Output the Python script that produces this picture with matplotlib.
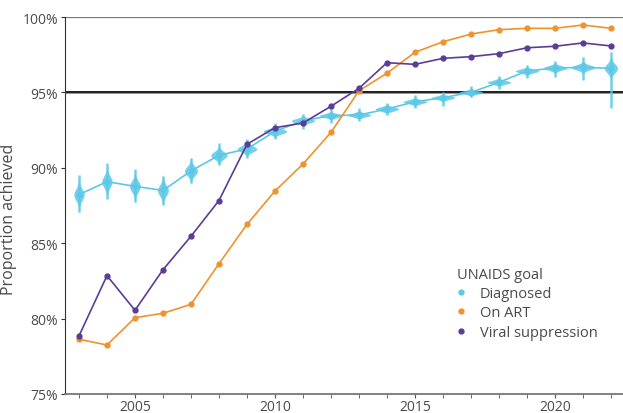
import matplotlib
matplotlib.use('Agg')
import matplotlib.pyplot as plt
import numpy as np

plt.rcParams['font.family'] = ['Open Sans', 'DejaVu Sans']

years = np.arange(2003, 2023)
diagnosed = [88.22, 89.08, 88.77, 88.5, 89.79, 90.83, 91.25, 92.42, 93.12, 93.46,
             93.5, 93.9, 94.38, 94.65, 95.0, 95.67, 96.42, 96.62, 96.66, 96.6]
on_art = [78.63, 78.25, 80.06, 80.35, 80.95, 83.64, 86.25, 88.46, 90.25, 92.35,
          95.11, 96.27, 97.66, 98.36, 98.87, 99.16, 99.25, 99.25, 99.47, 99.25]
viral = [78.85, 82.85, 80.55, 83.24, 85.46, 87.83, 91.56, 92.66, 92.97, 94.08,
         95.27, 96.97, 96.86, 97.26, 97.37, 97.57, 97.96, 98.06, 98.28, 98.08]
# uncertainty of diagnosed estimate (violins): whisker ends and body spread
diag_lo = [87.05, 87.9, 87.7, 87.53, 88.99, 90.19, 90.65, 91.9, 92.6, 93.0,
           93.1, 93.5, 93.95, 94.12, 94.67, 95.23, 95.93, 96.0, 95.84, 93.95]
diag_hi = [89.52, 90.3, 89.9, 89.46, 90.67, 91.64, 91.9, 92.95, 93.6, 93.9,
           93.95, 94.3, 94.8, 95.05, 95.45, 96.07, 96.8, 97.08, 97.33, 97.7]
diag_sd = [0.38, 0.38, 0.36, 0.36, 0.3, 0.24, 0.2, 0.16, 0.14, 0.12,
           0.12, 0.13, 0.12, 0.11, 0.11, 0.12, 0.12, 0.14, 0.16, 0.3]

c_diag = '#5cc8e6'
c_art = '#f0922e'
c_vir = '#5b3c97'
txt = '#4a4a4a'

fig = plt.figure(figsize=(6.23, 4.14), dpi=100)
ax = fig.add_axes([0.1043, 0.0459, 0.8957, 0.9106])

# violins
for x, c, lo, hi, sd in zip(years, diagnosed, diag_lo, diag_hi, diag_sd):
    yy = np.linspace(c - 3 * sd, c + 3 * sd, 80)
    w = min(0.42, 0.07 / sd) * np.exp(-0.5 * ((yy - c) / sd) ** 2)
    ax.fill_betweenx(yy, x - w, x + w, color=c_diag, alpha=0.85, lw=0, zorder=3)
    ax.plot([x, x], [lo, hi], color=c_diag, lw=1.8, alpha=0.85, zorder=3,
            solid_capstyle='butt')

ax.axhline(100, color='#777777', lw=1.6, zorder=1)
ax.axhline(95, color='#999999', lw=2.2, zorder=1)
ax.axhline(95, color='black', lw=1.1, zorder=2)

ax.plot(years, diagnosed, '-o', color=c_diag, lw=1.2, ms=3.5, zorder=4, label='Diagnosed')
ax.plot(years, on_art, '-o', color=c_art, lw=1.2, ms=3.5, zorder=4, label='On ART')
ax.plot(years, viral, '-o', color=c_vir, lw=1.2, ms=3.5, zorder=5, label='Viral suppression')

ax.set_xlim(2002.5, 2022.43)
ax.set_ylim(75, 100)
ax.set_yticks([75, 80, 85, 90, 95, 100])
ax.set_yticklabels(['75%', '80%', '85%', '90%', '95%', '100%'])
ax.set_xticks(years, minor=True)
ax.set_xticks([2005, 2010, 2015, 2020])
ax.tick_params(axis='y', length=3, color='#333333', labelsize=10, labelcolor=txt, pad=2)
ax.tick_params(axis='x', which='both', length=3, color='#555555', labelsize=10,
               labelcolor=txt, pad=0.5)
for s in ['top', 'right']:
    ax.spines[s].set_visible(False)
ax.spines['left'].set_color('#333333')
ax.spines['bottom'].set_color('#777777')
ax.spines['bottom'].set_linewidth(1.3)
ax.set_ylabel('Proportion achieved', fontsize=11.5, color=txt)
ax.yaxis.set_label_coords(-0.086, 0.465)

leg = ax.legend(loc='upper left', bbox_to_anchor=(0.689, 0.357), title='UNAIDS goal',
                frameon=False, fontsize=10.5, title_fontsize=10.5,
                handlelength=0.6, handletextpad=1.0, labelspacing=0.3,
                borderpad=0, labelcolor=txt)
leg.get_title().set_color(txt)
leg._legend_box.align = 'left'
for h in leg.legend_handles:
    h.set_linestyle('none')

fig.savefig('out.png', dpi=100)
